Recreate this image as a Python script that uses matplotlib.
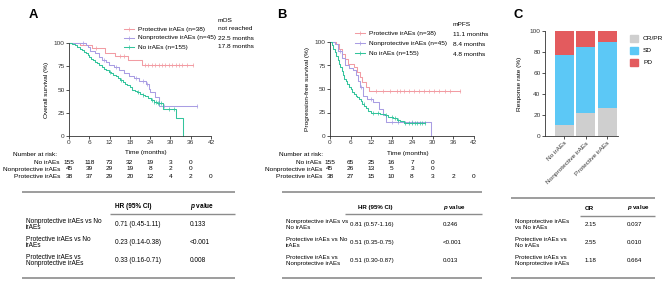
import numpy as np
import matplotlib.pyplot as plt
from matplotlib.patches import Rectangle
from matplotlib.transforms import blended_transform_factory

plt.rcParams['font.family'] = ['Liberation Sans', 'DejaVu Sans']
plt.rcParams['mathtext.fontset'] = 'custom'
plt.rcParams['mathtext.it'] = 'Liberation Sans:italic:bold'
plt.rcParams['mathtext.rm'] = 'Liberation Sans:bold'

FS = 4.65
PINK = '#f29ca3'
PURPLE = '#a99de3'
GREEN = '#33c49c'
LINE_GRAY = '#8c8c8c'

W, H = 669, 288

# ---- Panel A: overall survival (months, %) ----
os_prot_t = [0, 3.3, 6.8, 10.6, 13.6, 17.5, 21.5]
os_prot_s = [100, 97.4, 94.7, 89.4, 85.5, 81.3, 76.5]
os_prot_end = 36.8
os_prot_cens = [8.0, 15.0, 16.2, 22.5, 23.5, 24.5, 25.5, 26.5, 27.5, 28.5,
                29.5, 30.5, 31.5, 32.5, 33.5, 35.0, 36.8]

os_non_t = [0, 5.0, 5.6, 6.2, 7.8, 8.8, 9.8, 10.8, 11.8, 13.2, 14.7, 16.2,
            17.7, 19.2, 20.7, 22.7, 23.7, 24.0, 25.4, 26.6]
os_non_s = [100, 97.8, 95.6, 91.2, 88.9, 84.5, 82.2, 79.9, 76.5, 73.8, 71,
            68, 65, 62, 59, 55.6, 51, 47.6, 42, 32.4]
os_non_end = 37.8
os_non_cens = [4.2, 10.3, 14.0, 19.8, 22.0, 23.2, 28.0, 37.8]

os_no_t = [0, 1.0, 1.8, 2.5, 3.2, 3.8, 4.3, 4.9, 5.5, 6.0, 6.6, 7.2, 7.8,
           8.4, 9.0, 9.7, 10.4, 11.0, 11.7, 12.4, 13.1, 13.8, 14.5, 15.2,
           15.9, 16.5, 17.2, 17.9, 18.6, 19.4, 20.2, 21.0, 21.8, 22.6, 23.4,
           24.2, 25.0, 26.0, 27.8, 31.7, 33.8]
os_no_s = [100, 99, 97.5, 96, 94, 92, 90.5, 89, 87, 85, 83, 81.5, 80, 78,
           76.5, 74.5, 72.5, 71, 69, 67.5, 66, 64, 62, 60, 58, 56, 54.5,
           52.5, 50, 48.5, 47, 45.5, 44, 42.5, 41, 39, 37, 35, 28.5, 19, 0]
os_no_end = None
os_no_cens = [12.0, 15.5, 20.5, 22.0, 24.6, 25.2, 25.6, 26.2, 26.6, 27.2,
              29.5, 31.0]

# ---- Panel B: progression-free survival ----
pfs_prot_t = [0, 1.8, 2.5, 3.5, 4.5, 5.2, 7.0, 8.0, 8.8, 9.5, 10.5, 11.5]
pfs_prot_s = [100, 97.4, 92.1, 86.8, 81.5, 76.2, 73.6, 68.3, 63.0, 57.7,
              52.4, 47.4]
pfs_prot_end = 37.9
pfs_prot_cens = [13.5, 15.5, 17.5, 19.5, 20.5, 21.5, 23.0, 24.5, 26.0, 27.5,
                 29.0, 30.5, 32.0, 33.5, 35.0, 37.9]

pfs_non_t = [0, 1.5, 2.4, 3.4, 4.4, 5.6, 6.8, 7.6, 8.3, 8.8, 9.6, 10.7,
             12.7, 14.2, 15.5, 16.3, 29.4]
pfs_non_s = [100, 97.8, 90, 83, 75.5, 72, 70, 64.5, 59, 52, 43, 39.5, 36,
             29, 22, 15, 0]
pfs_non_end = None
pfs_non_cens = [3.0, 9.0, 12.0, 18.0, 20.0, 24.0]

pfs_no_t = [0, 0.6, 1.0, 1.4, 1.8, 2.2, 2.6, 3.0, 3.4, 3.8, 4.2, 4.6, 5.0,
            5.5, 6.0, 6.5, 7.0, 7.5, 8.0, 8.5, 9.0, 9.5, 10.0, 10.6, 11.2,
            12.0, 13.0, 14.5, 16.0, 17.0, 18.5, 19.5, 20.5, 21.5]
pfs_no_s = [100, 97, 93, 89, 85, 81, 77, 73, 69, 65, 61, 58, 55, 52, 49.5,
            47, 45, 43, 41, 39, 37, 34.5, 32, 29.5, 27, 25, 24, 23, 22, 20.5,
            19, 17, 15.5, 14]
pfs_no_end = 27.8
pfs_no_cens = [9.8, 12.5, 14.0, 16.5, 18.0, 19.0, 20.0, 22.0, 23.0, 24.0,
               24.8, 25.5, 26.3, 27.0, 27.8]

# ---- number at risk ----
risk_times = [0, 6, 12, 18, 24, 30, 36, 42]
risk_rows = ['No irAEs', 'Nonprotective irAEs', 'Protective irAEs']
os_risk = [[155, 118, 73, 32, 19, 3, 0],
           [45, 39, 29, 19, 8, 2, 0],
           [38, 37, 29, 20, 12, 4, 2, 0]]
pfs_risk = [[155, 65, 25, 16, 7, 0],
            [45, 26, 13, 5, 3, 0],
            [38, 27, 15, 10, 8, 3, 2, 0]]

legend_labels = ['Protective irAEs (n=38)', 'Nonprotective irAEs (n=45)',
                 'No irAEs (n=155)']
mos_values = ['not reached', '22.5 months', '17.8 months']
mpfs_values = ['11.1 months', '8.4 months', '4.8 months']

# ---- Panel C: response ----
resp_groups = ['No irAEs', 'Nonprotective irAEs', 'Protective irAEs']
resp_crpr = [10.3, 22.2, 26.3]
resp_sd = [66.5, 62.2, 63.2]
resp_pd = [23.2, 15.6, 10.5]
resp_labels = ['CR/PR', 'SD', 'PD']
resp_colors = ['#cfcfcf', '#5cc8f6', '#e35b5e']

# ---- tables ----
cmp_labels_a = [('Nonprotective irAEs vs No', 'irAEs'),
                ('Protective irAEs vs No', 'irAEs'),
                ('Protective irAEs vs', 'Nonprotective irAEs')]
cmp_labels_b = [('Nonprotective irAEs vs', 'No irAEs'),
                ('Protective irAEs vs No', 'irAEs'),
                ('Protective irAEs vs', 'Nonprotective irAEs')]
cmp_labels_c = [('Nonprotective irAEs', 'vs No irAEs'),
                ('Protective irAEs vs', 'No irAEs'),
                ('Protective irAEs vs', 'Nonprotective irAEs')]
hr_os = ['0.71 (0.45-1.11)', '0.23 (0.14-0.38)', '0.33 (0.16-0.71)']
p_os = ['0.133', '<0.001', '0.008']
hr_pfs = ['0.81 (0.57-1.16)', '0.51 (0.35-0.75)', '0.51 (0.30-0.87)']
p_pfs = ['0.246', '<0.001', '0.013']
or_resp = ['2.15', '2.55', '1.18']
p_resp = ['0.037', '0.010', '0.664']


fig = plt.figure(figsize=(W / 100, H / 100), dpi=100)
ov = fig.add_axes([0, 0, 1, 1])
ov.set_xlim(0, W)
ov.set_ylim(H, 0)
ov.axis('off')
ov.patch.set_alpha(0)


def px_axes(l, t, r, b):
    ax = fig.add_axes([l / W, 1 - b / H, (r - l) / W, (b - t) / H])
    ax.patch.set_visible(False)
    return ax


def style_axes(ax):
    for side in ['top', 'right']:
        ax.spines[side].set_visible(False)
    for side in ['left', 'bottom']:
        ax.spines[side].set_linewidth(0.6)
        ax.spines[side].set_color('#333333')
    ax.tick_params(direction='out', length=2.2, width=0.6, labelsize=FS,
                   pad=1, colors='#333333')


def km_curve(ax, t, s, end, cens, color):
    tt = list(t)
    ss = list(s)
    if end is not None:
        tt.append(end)
        ss.append(s[-1])
    ax.step(tt, ss, where='post', color=color, lw=0.75, clip_on=False)
    idx = np.searchsorted(t, cens, side='right') - 1
    ax.plot(cens, np.array(s)[idx], ls='none', marker='|', ms=3, mew=0.5,
            color=color, clip_on=False)


def km_panel(l, t, r, b, curves, ylabel, risk, row_right, head_x):
    ax = px_axes(l, t, r, b)
    style_axes(ax)
    for c in curves:
        km_curve(ax, *c)
    ax.set_xlim(0, 42)
    ax.set_ylim(0, 100)
    ax.set_xticks(risk_times)
    ax.set_yticks([0, 25, 50, 75, 100])
    ax.set_ylabel(ylabel, fontsize=FS)
    ax.yaxis.set_label_coords(-0.14, 0.5)
    ax.set_xlabel('Time (months)', fontsize=FS)
    ax.xaxis.set_label_coords(0.54, -0.155)
    blend = blended_transform_factory(ax.transData, ov.transData)
    ov.text(head_x, 154, 'Number at risk:', fontsize=FS, ha='right',
            va='center')
    for k, (name, vals) in enumerate(zip(risk_rows, risk)):
        y = 162 + 7 * k
        ov.text(row_right, y, name, fontsize=FS, ha='right', va='center')
        for tm, v in zip(risk_times, vals):
            ax.text(tm, y, str(v), fontsize=FS, ha='center', va='center',
                    transform=blend)
    return ax


def km_legend(x, rows_y):
    for c, lab, y in zip((PINK, PURPLE, GREEN), legend_labels, rows_y):
        ov.plot([x, x + 10], [y, y], color=c, lw=0.75)
        ov.plot([x + 5], [y], marker='|', ms=3, mew=0.5, color=c)
        ov.text(x + 14, y, lab, fontsize=FS, va='center')


def table(x0, x1, top, labels, col1, col2, c1x, c2x, head1, h1x, ul_x0,
          fs, head_y=207, ul_y=214):
    ov.plot([x0, x1], [top, top], color=LINE_GRAY, lw=1.2,
            solid_capstyle='butt')
    ov.text(h1x, head_y, head1, fontsize=fs, fontweight='bold', va='center')
    ov.text(c2x, head_y, r'$p$ value', fontsize=fs, fontweight='bold',
            va='center')
    ov.plot([ul_x0, x1], [ul_y, ul_y], color=LINE_GRAY, lw=1.0,
            solid_capstyle='butt')
    for k, (lab, v1, v2) in enumerate(zip(labels, col1, col2)):
        yc = 224.7 + 18 * k
        ov.text(x0 + 4, yc - 3, lab[0], fontsize=fs, va='center')
        ov.text(x0 + 4, yc + 3, lab[1], fontsize=fs, va='center')
        ov.text(c1x, yc, v1, fontsize=fs, va='center')
        ov.text(c2x, yc, v2, fontsize=fs, va='center')
    ov.plot([x0, x1], [278, 278], color=LINE_GRAY, lw=1.2,
            solid_capstyle='butt')


# Panel A
axA = km_panel(69, 43, 211, 136,
               [(os_prot_t, os_prot_s, os_prot_end, os_prot_cens, PINK),
                (os_non_t, os_non_s, os_non_end, os_non_cens, PURPLE),
                (os_no_t, os_no_s, os_no_end, os_no_cens, GREEN)],
               'Overall survival (%)', os_risk, 60, 57)
km_legend(124, [29, 38, 47])
ov.text(218, 21, 'mOS', fontsize=FS, va='center')
for k, v in enumerate(mos_values):
    ov.text(218, 29 + 9 * k, v, fontsize=FS, va='center')
ov.text(33, 15, 'A', fontsize=9.4, fontweight='bold', ha='center',
        va='center')
table(22, 235, 192, cmp_labels_a, hr_os, p_os, 115, 190, 'HR (95% CI)',
      115, 110, 4.7)

# Panel B
axB = km_panel(330, 42, 473.6, 136,
               [(pfs_prot_t, pfs_prot_s, pfs_prot_end, pfs_prot_cens, PINK),
                (pfs_non_t, pfs_non_s, pfs_non_end, pfs_non_cens, PURPLE),
                (pfs_no_t, pfs_no_s, pfs_no_end, pfs_no_cens, GREEN)],
               'Progression-free survival (%)', pfs_risk, 322, 323)
km_legend(355, [33, 43, 53])
ov.text(453, 24, 'mPFS', fontsize=FS, va='center')
for k, v in enumerate(mpfs_values):
    ov.text(453, 34 + 10 * k, v, fontsize=FS, va='center')
ov.text(282, 15, 'B', fontsize=9.4, fontweight='bold', ha='center',
        va='center')
table(282, 482, 192, cmp_labels_b, hr_pfs, p_pfs, 350, 443, 'HR (95% CI)',
      358, 345, 4.4)

# Panel C
axC = px_axes(545, 31, 618, 136)
style_axes(axC)
xs = np.arange(len(resp_groups))
bw = 0.885
bottom = np.zeros(len(resp_groups))
for vals, col in zip([resp_crpr, resp_sd, resp_pd], resp_colors):
    axC.bar(xs, vals, bw, bottom=bottom, color=col)
    bottom = bottom + np.array(vals)
axC.set_xlim(-0.9, 2.5)
axC.set_ylim(0, 100)
axC.set_yticks([0, 20, 40, 60, 80, 100])
axC.set_xticks(xs)
axC.set_xticklabels(resp_groups, rotation=45, ha='right',
                    rotation_mode='anchor')
axC.set_ylabel('Response rate (%)', fontsize=FS)
axC.yaxis.set_label_coords(-0.315, 0.5)
for k, (lab, col) in enumerate(zip(resp_labels, resp_colors)):
    y = 38 + 12 * k
    ov.add_patch(Rectangle((630, y - 3.5), 8, 7, color=col))
    ov.text(643, y, lab, fontsize=FS, va='center')
ov.text(518, 15, 'C', fontsize=9.4, fontweight='bold', ha='center',
        va='center')

table(511, 655, 198, cmp_labels_c, or_resp, p_resp, 585, 627, 'OR',
      585, 580, 4.4, head_y=208, ul_y=216)

fig.savefig('out.png', dpi=100)
